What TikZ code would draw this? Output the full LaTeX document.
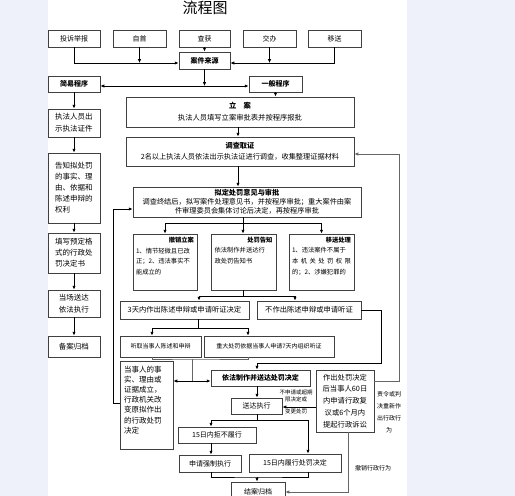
\documentclass[tikz,border=0pt]{standalone}
\usepackage{fontspec}
\setmainfont{Noto Sans CJK SC}
\usetikzlibrary{arrows.meta}
\definecolor{bgblue}{HTML}{EEF1F9}
\begin{document}
\begin{tikzpicture}[x=1pt,y=-1pt,
  box/.style={draw=black!75, line width=0.9pt, fill=white, inner sep=0pt, align=center, font=\fontsize{7}{9}\selectfont},
  colbox/.style={box, minimum width=52pt, font=\fontsize{7.5}{11}\selectfont},
  txt/.style={inner sep=0pt, align=left},
  arr/.style={-{Latex[length=3.8pt,width=3.4pt]}, line width=1pt},
  arrtwo/.style={{Latex[length=3.8pt,width=3.4pt]}-{Latex[length=3.8pt,width=3.4pt]}, line width=1pt},
  ln/.style={line width=1pt},
  thinln/.style={line width=0.7pt, draw=black!60},
  lbl/.style={font=\fontsize{5.5}{7.5}\selectfont, inner sep=0pt, align=center}]
\useasboundingbox (0,0) rectangle (515,496);
\fill[bgblue] (0,0) rectangle (515,496);
\fill[white] (48,0) rectangle (407,496);

\node[font=\fontsize{15}{17}\selectfont, inner sep=0pt] (title) at (205,8) {流程图};

% top row
\node[box, minimum width=52pt, minimum height=17pt] (tousu) at (74,38.5) {投诉举报};
\node[box, minimum width=53pt, minimum height=17pt] (zishou) at (139.5,38.5) {自首};
\node[box, minimum width=51pt, minimum height=17pt] (chahuo) at (204.5,38.5) {查获};
\node[box, minimum width=53pt, minimum height=17pt] (jiaoban) at (269.5,38.5) {交办};
\node[box, minimum width=53pt, minimum height=17pt] (yisong) at (334.5,38.5) {移送};
\node[box, minimum width=51pt, minimum height=17pt, font=\fontsize{7}{9}\selectfont\bfseries] (laiyuan) at (204.5,60.5) {案件来源};
\node[box, minimum width=52pt, minimum height=16pt, font=\fontsize{7}{9}\selectfont\bfseries] (jianyi) at (74,84) {简易程序};
\node[box, minimum width=53pt, minimum height=16pt, font=\fontsize{7}{9}\selectfont\bfseries] (yiban) at (275.5,84) {一般程序};

% main column
\node[box, minimum width=228pt, minimum height=30pt, font=\fontsize{7.3}{12}\selectfont] (lian) at (240,112) {\textbf{立\quad 案}\\执法人员填写立案审批表并按程序报批};
\node[box, minimum width=228pt, minimum height=29pt, font=\fontsize{7.2}{11}\selectfont] (diaocha) at (240,151.5) {\textbf{调查取证}\\2名以上执法人员依法出示执法证进行调查，收集整理证据材料};
\node[box, minimum width=228pt, minimum height=30pt, font=\fontsize{7.2}{8.8}\selectfont] (niding) at (247,202) {\textbf{拟定处罚意见与审批}\\调查终结后，拟写案件处理意见书，并按程序审批；重大案件由案\\件审理委员会集体讨论后决定，再按程序审批};

% left column
\node[colbox, minimum height=28pt, font=\fontsize{7.5}{12}\selectfont] (chushi) at (74,123) {执法人员出\\示执法证件};
\node[colbox, minimum height=70pt, align=left] (gaozhi) at (74,188) {告知拟处罚\\的事实、理\\由、依据和\\陈述申辩的\\权利};
\node[colbox, minimum height=40pt, align=left] (tianxie) at (74,253) {填写预定格\\式的行政处\\罚决定书};
\node[colbox, minimum height=27pt, font=\fontsize{7.5}{12}\selectfont] (dangchang) at (74,303.5) {当场送达\\依法执行};
\node[colbox, minimum height=21pt] (beian) at (74,346.5) {备案归档};

% three branch boxes
\node[box, minimum width=64pt, minimum height=56pt] (chexiao) at (165,262) {};
\node[txt, anchor=north, text width=58pt, font=\fontsize{6.3}{10.8}\selectfont] (chexiaoT) at ([yshift=-3pt]chexiao.north) {\hspace*{\fill}\textbf{撤销立案}\hspace*{\fill}\\1、情节轻微且已改\\正；2、违法事实不\\能成立的};
\node[box, minimum width=65pt, minimum height=56pt] (chufa) at (243.5,262) {};
\node[txt, anchor=north, text width=58pt, font=\fontsize{6.3}{10.8}\selectfont] (chufaT) at ([yshift=-3pt]chufa.north) {\hspace*{\fill}\textbf{处罚告知}\hspace*{\fill}\\依法制作并送达行\\政处罚告知书};
\node[box, minimum width=65pt, minimum height=56pt] (yisongcl) at (321.5,262) {};
\node[txt, anchor=north, text width=59pt, font=\fontsize{6.3}{10.8}\selectfont] (yisongclT) at ([yshift=-3pt]yisongcl.north) {\hspace*{\fill}\textbf{移送处理}\hspace*{\fill}\\1、违法案件不属于\\本\hfill 机\hfill 关\hfill 处\hfill 罚\hfill 权\hfill 限\\的；2、涉嫌犯罪的};

% hearing row
\node[box, minimum width=129pt, minimum height=18pt, font=\fontsize{7.3}{9}\selectfont] (santian) at (184.5,310) {3天内作出陈述申辩或申请听证决定};
\node[box, minimum width=104pt, minimum height=18pt, font=\fontsize{7.3}{9}\selectfont] (buzuo) at (309,310) {不作出陈述申辩或申请听证};
\node[box, minimum width=81pt, minimum height=21pt, font=\fontsize{6}{8}\selectfont] (tingqu) at (160.5,346.5) {听取当事人陈述和申辩};
\node[box, minimum width=130pt, minimum height=21pt, font=\fontsize{6}{8}\selectfont] (zhongda) at (269,346.5) {重大处罚依据当事人申请7天内组织听证};

% lower part
\node[box, minimum width=53pt, minimum height=88pt] (dangshiren) at (146.5,405) {};
\node[txt, anchor=north, text width=45pt, font=\fontsize{7.5}{10.2}\selectfont] (dangshirenT) at ([yshift=-5pt]dangshiren.north) {当事人的事\\实、理由或\\证据成立，\\行政机关改\\变原拟作出\\的行政处罚\\决定};
\node[box, minimum width=99pt, minimum height=16pt, font=\fontsize{7}{9}\selectfont\bfseries] (yifa) at (260.5,378) {依法制作并送达处罚决定};
\node[box, minimum width=58pt, minimum height=62pt, font=\fontsize{7.3}{11.8}\selectfont] (zuochu) at (345,401) {作出处罚决定\\后当事人60日\\内申请行政复\\议或6个月内\\提起行政诉讼};
\node[box, minimum width=51pt, minimum height=16pt] (songda) at (256.5,406) {送达执行};
\node[box, minimum width=78pt, minimum height=16pt] (jvbu) at (217,435) {15日内拒不履行};
\node[box, minimum width=62pt, minimum height=17pt] (qiangzhi) at (210,463.5) {申请强制执行};
\node[box, minimum width=92pt, minimum height=18pt] (lvxing) at (295,463) {15日内履行处罚决定};
\node[box, minimum width=54pt, minimum height=20pt] (jiean) at (258,492) {结案归档};

% labels
\node[lbl] (l1) at (296,396) {不申请或超期\\限决定或};
\node[lbl] (l2) at (296,411) {变更处罚};
\node[lbl, font=\fontsize{6}{12}\selectfont] (l3) at (389,412) {责令或判\\决重新作\\出行政行\\为};
\node[lbl, font=\fontsize{6}{8}\selectfont] (l4) at (373,468) {撤销行政行为};

% connectors: sources
\coordinate (j1) at (0,63);
\draw[arr] (tousu.south) |- (laiyuan.west |- j1);
\draw[arr] (zishou.south) -- (zishou.south |- j1);
\draw[arr] (chahuo.south) -- (laiyuan.north);
\draw[arr] (yisong.south) |- (laiyuan.east |- j1);
\draw[arr] (jiaoban.south) -- (jiaoban.south |- j1);
\coordinate (j2) at (0,86);
\draw[arr] (laiyuan.south) -- (laiyuan.south |- j2);
\draw[arrtwo] (jianyi.east |- j2) -- (yiban.west |- j2);
\draw[arr] (yiban.south) -- (yiban.south |- lian.north);

% left column
\draw[arr] (jianyi.south) -- (chushi.north);
\draw[arr] (chushi.south) -- (gaozhi.north);
\draw[arr] (gaozhi.south) -- (tianxie.north);
\draw[arr] (tianxie.south) -- (dangchang.north);
\draw[arr] (dangchang.south) -- (beian.north);

% main column
\coordinate (cx) at (238,0);
\draw[arr] (lian.south -| cx) -- (diaocha.north -| cx);
\draw[arr] (diaocha.south -| cx) -- (niding.north -| cx);
\coordinate (j3) at (243,223);
\draw[ln] (niding.south -| j3) -- (j3);
\draw[arr] (j3) -| (chexiao.north);
\draw[arr] (j3) -| (yisongcl.north);
\draw[arr] (j3) -- (chufa.north -| j3);
\coordinate (j4) at (243,296);
\coordinate (a4) at (199,0);
\coordinate (b4) at (295,0);
\draw[ln] (chufa.south -| j4) -- (j4);
\draw[arr] (j4) -| (santian.north -| a4);
\draw[arr] (j4) -| (buzuo.north -| b4);
\coordinate (j5) at (257,363);
\draw[arr] (buzuo.east) -- ++(20,0) |- (j5) -- (yifa.north -| j5);
\coordinate (j6) at (198,328);
\coordinate (a6) at (152,0);
\coordinate (b6) at (248,0);
\draw[ln] (santian.south -| j6) -- (j6);
\draw[arr] (j6) -| (tingqu.north -| a6);
\draw[arr] (j6) -| (zhongda.north -| b6);
\coordinate (j7) at (192,359);
\coordinate (j8) at (192,381);
\draw[thinln] (tingqu.south -| a6) |- (j7) -| (zhongda.south -| b6);
\draw[thinln] (j7) -- (j8);
\draw[arr] (j8) -- (dangshiren.east |- j8);
\draw[arr] (j8) -- (yifa.west |- j8);
\coordinate (k2) at (113,403);
\coordinate (k3) at (113,209);
\draw[arr] (dangshiren.west |- k2) -- (k2) -- (k3) -- (niding.west |- k3);
\draw[arr] (yifa.south -| j5) -- (songda.north -| j5);
\coordinate (k4) at (0,407);
\draw[arr] (zuochu.west |- k4) -- (songda.east |- k4);
\coordinate (j9) at (257,420);
\coordinate (a9) at (211,0);
\coordinate (b9) at (308,0);
\draw[ln] (songda.south -| j9) -- (j9);
\draw[arr] (j9) -| (jvbu.north -| a9);
\draw[arr] (j9) -| (lvxing.north -| b9);
\draw[arr] (jvbu.south -| a9) -- (qiangzhi.north -| a9);
\coordinate (j10) at (257,477);
\draw[ln] (qiangzhi.south -| a9) |- (j10) -| (lvxing.south -| b9);
\draw[arr] (j10) -- (jiean.north -| j10);
\coordinate (k5) at (348,0);
\draw[arr, thinln] (zuochu.south -| k5) |- (jiean.east);
\coordinate (k6) at (399,381);
\coordinate (k7) at (399,154);
\draw[arr, thinln] (zuochu.east |- k6) -- (k6) -- (k7) -- (diaocha.east |- k7);
\end{tikzpicture}
\end{document}
